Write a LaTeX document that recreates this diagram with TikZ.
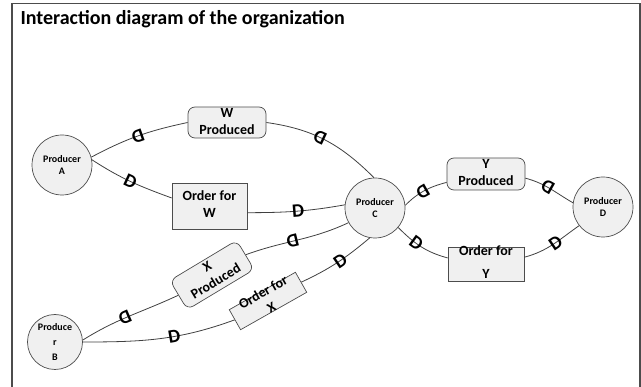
\documentclass[tikz,border=0pt]{standalone}
\usepackage{fontspec}
\setmainfont{Carlito}
% two or more centred lines that may spill over the edge of their box
\newcommand\boxlines[1]{\smash{\raisebox{-3.5pt}{\begin{tabular}{@{}c@{}}#1\end{tabular}}}}
\begin{document}
\begin{tikzpicture}[x=1pt,y=1pt,
  frame/.style={draw=black!70, line width=1.5pt},
  link/.style={draw=black!75, line width=0.8pt},
  producer/.style={circle, draw=black!70, fill=black!6, line width=0.7pt,
    minimum size=60pt, inner sep=0pt, align=center,
    font=\fontsize{10}{12.5}\selectfont\bfseries},
  flowbox/.style={rectangle, draw=black!70, fill=black!6, line width=0.7pt,
    inner sep=0pt, font=\fontsize{14}{17}\selectfont\bfseries},
  roundbox/.style={flowbox, rounded corners=7pt},
  dmark/.style={sloped, allow upside down, inner sep=0pt,
    font=\fontsize{19}{19}\selectfont\bfseries},
  dback/.style={dmark, rotate=180},
  title/.style={anchor=base west, font=\fontsize{20}{24}\selectfont\bfseries}
]
\useasboundingbox (0,0) rectangle (641,-387);

% frame and heading
\draw[frame] (12,-390) -- (12,-3.5) -- (640,-3.5) -- (640,-390);
\node[title] (heading) at (17,-25) {Interaction diagram of the organization};

% producers
\node[producer] (pa) at (62,-165) {Producer\\A};
\node[producer, minimum size=55pt, font=\fontsize{10}{15}\selectfont\bfseries]
  (pb) at (55,-342) {Produce\\r\\B};
\node[producer] (pc) at (375,-208) {Producer\\C};
\node[producer] (pd) at (603,-207) {Producer\\D};

% goods produced and orders
\node[roundbox, minimum width=78pt, minimum height=31pt] (wp) at (227,-122.5) {\boxlines{W\\Produced}};
\node[flowbox, minimum width=75pt, minimum height=46pt] (ow) at (209.5,-206) {\boxlines{Order for\\W}};
\node[roundbox, minimum width=78pt, minimum height=32pt] (yp) at (486,-174) {\boxlines{Y\\Produced}};
\node[flowbox, minimum width=76pt, minimum height=34pt] (oy) at (486,-264) {\boxlines{Order for\\[6pt]Y}};
\node[roundbox, minimum width=78pt, minimum height=34pt, rotate=31] (xp) at (212,-275) {\boxlines{X\\Produced}};
\node[flowbox, minimum width=76pt, minimum height=23pt, rotate=29.5] (ox) at (268,-301) {\boxlines{Order for\\X}};

% connections with delay marks
\draw[link] (pa.15) to[out=28,in=192] node[dback,pos=.5]{D} (wp.west);
\draw[link] (pa.10) to[out=-33,in=160] node[dmark,pos=.5]{D} (ow.168);
\draw[link] (wp.east) to[out=-8,in=135] node[dback,pos=.45]{D} (pc.92);
\draw[link] (ow.-10) to[out=0,in=190] node[dmark,pos=.52]{D} (pc.174);
\draw[link] (xp.east) to[out=20,in=205] node[dback,pos=.45]{D} (pc.209);
\draw[link] (pb.4) to[out=32,in=205] node[dback,pos=.45]{D} (xp.west);
\draw[link] (ox.east) to[out=25,in=220] node[dmark,pos=.55]{D} (pc.-100);
\draw[link] (pb.0) to[out=0,in=200] node[dmark,pos=.6]{D} (ox.west);
\draw[link] (pc.5) to[out=45,in=195] node[dback,pos=.47]{D} (yp.192);
\draw[link] (yp.-6) to[out=-15,in=150] node[dback,pos=.45]{D} (pd.172);
\draw[link] (pc.-40) to[out=-45,in=165] node[dmark,pos=.4]{D} (oy.171);
\draw[link] (oy.10) to[out=15,in=215] node[dmark,pos=.55]{D} (pd.218);
\end{tikzpicture}
\end{document}
